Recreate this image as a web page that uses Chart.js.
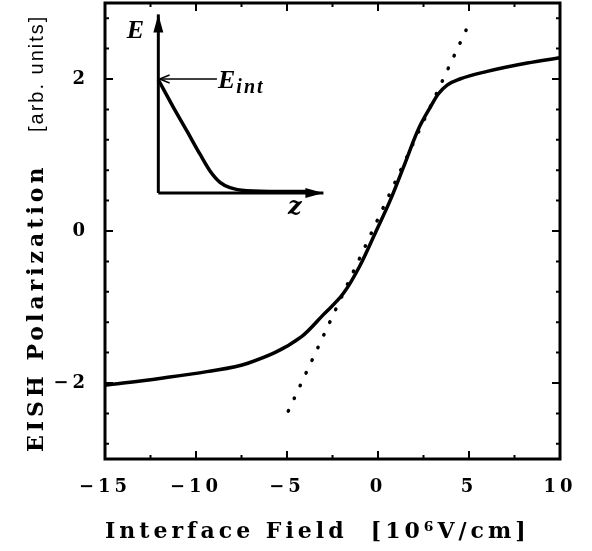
<!DOCTYPE html>
<html>
<head>
<meta charset="utf-8">
<title>EISH Polarization vs Interface Field</title>
<script src="https://cdn.jsdelivr.net/npm/chart.js@4"></script>
<style>
  html, body { margin: 0; padding: 0; background: #fff; }
  canvas { display: block; }
</style>
</head>
<body>
<canvas id="eishChart" width="592" height="551"></canvas>
<script>
// measured EISH curve (interface field in 10^6 V/cm, polarization in arb. units)
const fieldValues = [-15, -12, -9.4, -7.15, -4.2, -3.0, -1.9, -1.0, -0.1, 0.7, 1.4, 2.2, 2.9, 3.3, 3.8, 4.5, 6.0, 8.2, 10];
const polarValues = [-2.03, -1.94, -1.85, -1.74, -1.39, -1.10, -0.82, -0.46, 0.0, 0.42, 0.84, 1.33, 1.64, 1.80, 1.92, 2.0, 2.1, 2.21, 2.28];

// dotted linear fit
const fitField = [-4.93, 4.95];
const fitPolar = [-2.37, 2.70];

// inset sketch E(z), drawn in the main axis units
const insetZ = [-12.07, -11.25, -10.51, -9.78, -9.23, -8.68, -8.13, -7.22, -5.38, -3.95];
const insetE = [1.99, 1.63, 1.32, 1.01, 0.79, 0.64, 0.57, 0.53, 0.52, 0.52];
const insetAxisE = [[-12.07, 0.50], [-12.07, 2.85]];
const insetAxisZ = [[-12.07, 0.50], [-3.0, 0.50]];
const insetPointer = [[-8.85, 2.0], [-12.0, 2.0]];

// ticks
const xTicks = [-15, -12.5, -10, -7.5, -5, -2.5, 0, 2.5, 5, 7.5, 10];
const xTickLabels = [-15, -10, -5, 0, 5, 10];
const yTicks = [-2.8, -2.4, -2, -1.6, -1.2, -0.8, -0.4, 0, 0.4, 0.8, 1.2, 1.6, 2, 2.4, 2.8];
const yTickLabels = [-2, 0, 2];

const toPoints = (xs, ys) => xs.map((x, i) => ({ x, y: ys[i] }));
const pairs = (arr) => arr.map(p => ({ x: p[0], y: p[1] }));
const fmt = (v) => (v < 0 ? '\u2212' + Math.abs(v) : String(v));

const SPACING = '4px';

const spacingPlugin = {
  id: 'spacing',
  beforeLayout(chart) { chart.ctx.letterSpacing = SPACING; },
  beforeDraw(chart) { chart.ctx.letterSpacing = SPACING; }
};

const framePlugin = {
  id: 'frame',
  afterDatasetsDraw(chart) {
    const { ctx, chartArea: a, scales } = chart;
    ctx.save();
    ctx.strokeStyle = '#000';
    ctx.lineWidth = 2;
    scales.x.ticks.forEach(t => {
      const px = scales.x.getPixelForValue(t.value);
      const len = xTickLabels.includes(t.value) ? 8 : 4;
      ctx.beginPath();
      ctx.moveTo(px, a.bottom); ctx.lineTo(px, a.bottom - len);
      ctx.moveTo(px, a.top); ctx.lineTo(px, a.top + len);
      ctx.stroke();
    });
    scales.y.ticks.forEach(t => {
      const py = scales.y.getPixelForValue(t.value);
      const len = yTickLabels.includes(t.value) ? 8 : 4;
      ctx.beginPath();
      ctx.moveTo(a.left, py); ctx.lineTo(a.left + len, py);
      ctx.moveTo(a.right, py); ctx.lineTo(a.right - len, py);
      ctx.stroke();
    });
    ctx.lineWidth = 3;
    ctx.strokeRect(a.left, a.top, a.right - a.left, a.bottom - a.top);
    ctx.restore();
  }
};

function arrowHead(ctx, from, to, len, half, filled) {
  const ang = Math.atan2(to.y - from.y, to.x - from.x);
  const bx = to.x - len * Math.cos(ang);
  const by = to.y - len * Math.sin(ang);
  const nx = -Math.sin(ang) * half;
  const ny = Math.cos(ang) * half;
  ctx.beginPath();
  ctx.moveTo(bx + nx, by + ny);
  ctx.lineTo(to.x, to.y);
  ctx.lineTo(bx - nx, by - ny);
  if (filled) { ctx.closePath(); ctx.fill(); } else { ctx.stroke(); }
}

const annotatePlugin = {
  id: 'annotate',
  afterDraw(chart) {
    const { ctx, scales } = chart;
    const X = v => scales.x.getPixelForValue(v);
    const Y = v => scales.y.getPixelForValue(v);
    ctx.save();
    ctx.fillStyle = '#000';
    ctx.strokeStyle = '#000';

    // arrow heads on the inset lines
    chart.data.datasets.forEach((ds, i) => {
      if (!ds.arrow) return;
      const pts = chart.getDatasetMeta(i).data;
      const from = pts[pts.length - 2], to = pts[pts.length - 1];
      ctx.lineWidth = 1.5;
      if (ds.arrow === 'solid') arrowHead(ctx, from, to, 18, 5, true);
      else arrowHead(ctx, from, to, 10, 4, false);
    });

    // inset labels
    ctx.letterSpacing = '0px';
    ctx.textBaseline = 'alphabetic';
    ctx.textAlign = 'left';
    ctx.font = 'bold italic 26px "Liberation Serif"';
    ctx.fillText('E', X(-13.8), Y(2.54));
    ctx.fillText('E', X(-8.79), Y(1.88));
    const eW = ctx.measureText('E').width;
    ctx.letterSpacing = '2px';
    ctx.font = 'bold italic 20px "Liberation Serif"';
    ctx.fillText('int', X(-8.79) + eW + 1, Y(1.88) + 5);
    ctx.letterSpacing = '0px';
    ctx.font = 'bold italic 24px "DejaVu Serif"';
    ctx.fillText('z', X(-4.95), Y(0.225));

    // y axis title
    ctx.translate(43, 452);
    ctx.rotate(-Math.PI / 2);
    ctx.letterSpacing = SPACING;
    ctx.font = 'bold 22px "DejaVu Serif"';
    ctx.fillText('EISH Polarization', 0, 0);
    ctx.letterSpacing = '2px';
    ctx.font = '20px "Liberation Sans"';
    ctx.fillText('[arb. units]', 320, 0);
    ctx.restore();
  }
};

const config = {
  type: 'line',
  data: {
    datasets: [
      {
        data: toPoints(fieldValues, polarValues),
        borderColor: '#000', borderWidth: 3.5,
        pointRadius: 0, cubicInterpolationMode: 'monotone'
      },
      {
        data: toPoints(fitField, fitPolar),
        borderColor: '#000', borderWidth: 3.5,
        borderDash: [0.5, 13.5], borderCapStyle: 'round',
        pointRadius: 0
      },
      {
        data: toPoints(insetZ, insetE),
        borderColor: '#000', borderWidth: 3.5,
        pointRadius: 0, cubicInterpolationMode: 'monotone'
      },
      { data: pairs(insetAxisE), borderColor: '#000', borderWidth: 3, pointRadius: 0, arrow: 'solid' },
      { data: pairs(insetAxisZ), borderColor: '#000', borderWidth: 3, pointRadius: 0, arrow: 'solid' },
      { data: pairs(insetPointer), borderColor: '#000', borderWidth: 1.5, pointRadius: 0, arrow: 'open' }
    ]
  },
  options: {
    responsive: false,
    animation: false,
    events: [],
    layout: { padding: { left: 0, top: 3, right: 32, bottom: 6 } },
    plugins: { legend: { display: false }, tooltip: { enabled: false } },
    scales: {
      x: {
        type: 'linear', min: -15, max: 10,
        grid: { display: false, drawTicks: false },
        border: { display: false },
        afterBuildTicks: (s) => { s.ticks = xTicks.map(v => ({ value: v })); },
        afterFit: (s) => { s.height = 86; s.paddingLeft = 0; s.paddingRight = 0; },
        ticks: {
          autoSkip: false, maxRotation: 0, padding: 18, color: '#000',
          font: { family: 'DejaVu Serif', size: 18, weight: 'bold' },
          callback: (v) => (xTickLabels.includes(v) ? fmt(v) : '')
        },
        title: {
          display: true, align: 'start', color: '#000',
          text: 'Interface Field  [10\u2076V/cm]',
          font: { family: 'DejaVu Serif', size: 22, weight: 'bold' },
          padding: { top: 0, bottom: 0 }
        }
      },
      y: {
        type: 'linear', min: -3, max: 3,
        grid: { display: false, drawTicks: false },
        border: { display: false },
        afterBuildTicks: (s) => { s.ticks = yTicks.map(v => ({ value: v })); },
        afterFit: (s) => { s.width = 105; s.paddingTop = 0; s.paddingBottom = 0; },
        ticks: {
          autoSkip: false, padding: 16, color: '#000',
          font: { family: 'DejaVu Serif', size: 18, weight: 'bold' },
          callback: (v) => (yTickLabels.includes(v) ? fmt(v) : '')
        }
      }
    }
  },
  plugins: [spacingPlugin, framePlugin, annotatePlugin]
};

new Chart(document.getElementById('eishChart'), config);
</script>
</body>
</html>
